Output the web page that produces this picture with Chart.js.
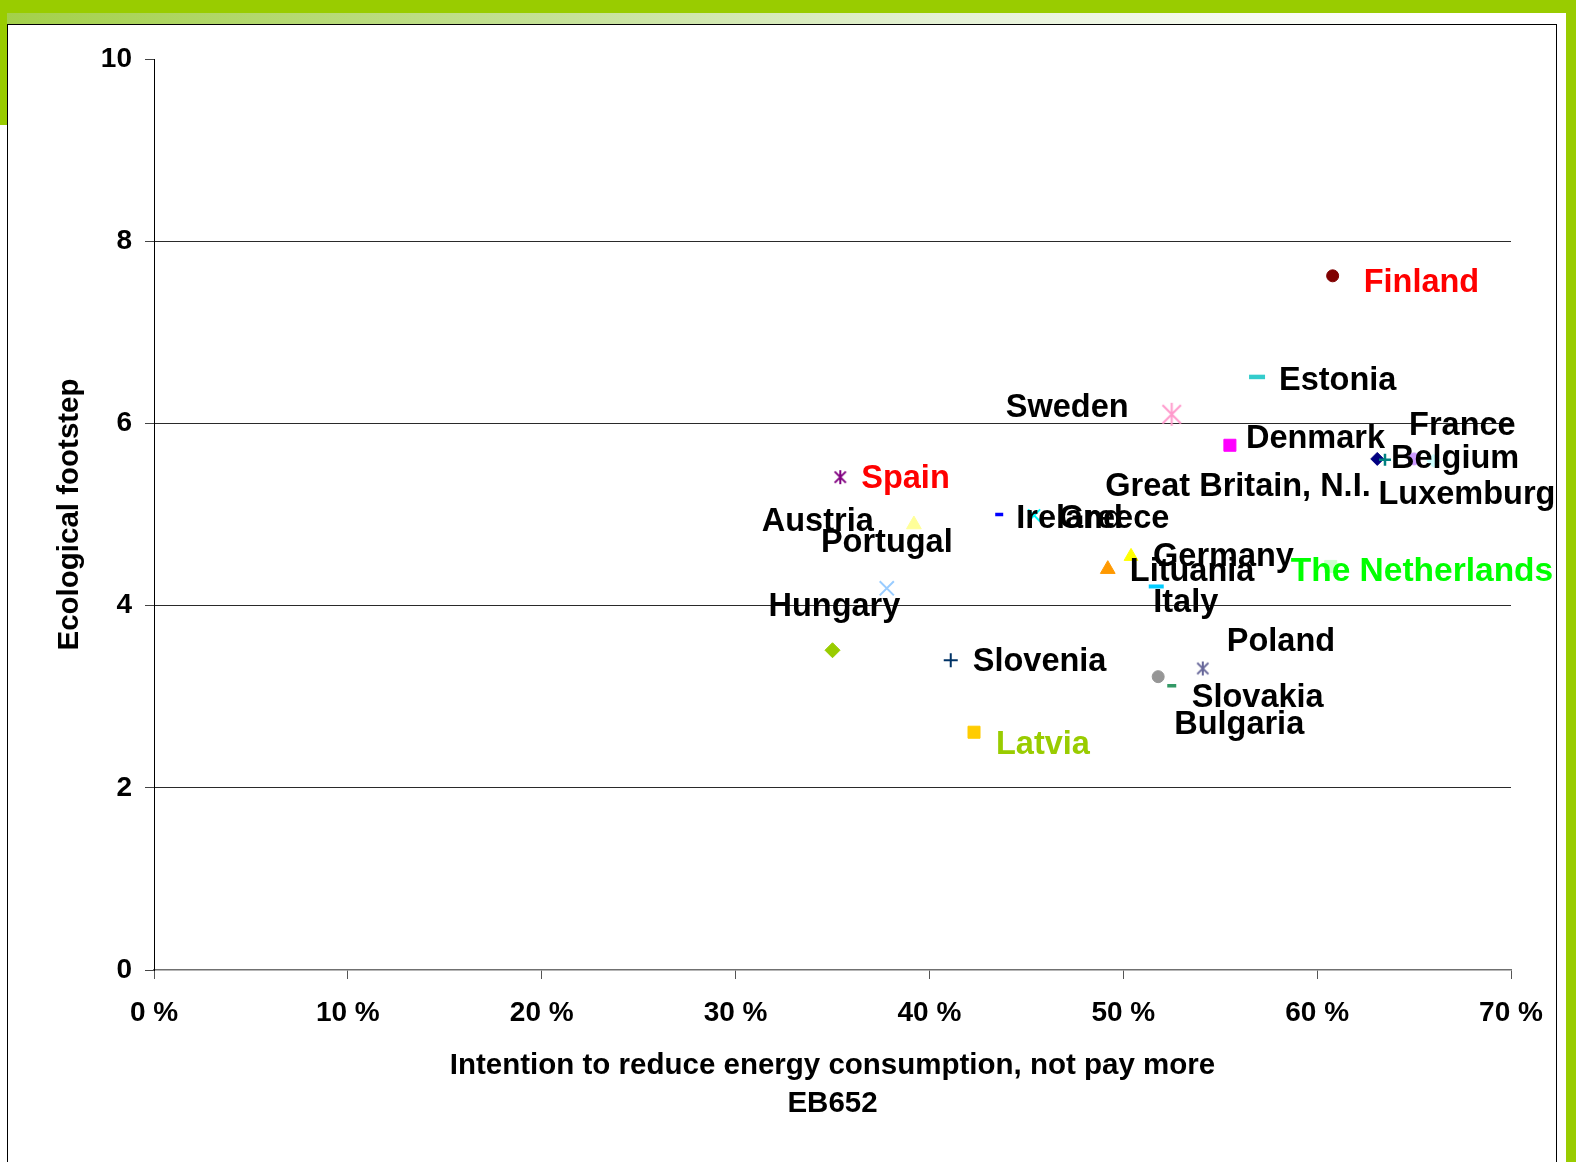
<!DOCTYPE html>
<html>
<head>
<meta charset="utf-8">
<title>Ecological footstep</title>
<script src="https://cdn.jsdelivr.net/npm/chart.js@4.4.1/dist/chart.umd.min.js"></script>
<style>
  body { margin: 0; background: #fff; }
  #page { position: relative; width: 1576px; height: 1162px; overflow: hidden; }
  .bar { position: absolute; background: #99cc00; }
  #topBar { left: 0; top: 0; width: 1576px; height: 13px; }
  #fade { position: absolute; left: 0; top: 13px; width: 1566px; height: 11px;
          background: linear-gradient(to right, #a3d049 0%, #c4e196 35%, #e4f1d4 60%, #f7fbf1 80%, #fff 92%); }
  #leftBar { left: 0; top: 13px; width: 7px; height: 112px; }
  #rightBar { left: 1566px; top: 0; width: 10px; height: 1162px; }
  #frame { position: absolute; left: 7px; top: 24px; width: 1548px; height: 1150px;
           border: 1px solid #000; border-bottom: none; }
  canvas { position: absolute; left: 0; top: 0; }
</style>
</head>
<body>
<div id="page">
  <div class="bar" id="topBar"></div>
  <div id="fade"></div>
  <div class="bar" id="leftBar"></div>
  <div class="bar" id="rightBar"></div>
  <div id="frame"></div>
  <canvas id="chart" width="1576" height="1162"></canvas>
</div>
<script>
const countries = ['Finland', 'Estonia', 'Sweden', 'Denmark', 'Great Britain, N.I.', 'Belgium', 'France', 'Luxemburg',
  'Spain', 'Portugal', 'Ireland', 'Greece', 'Germany', 'Lituania', 'Italy', 'The Netherlands',
  'Austria', 'Hungary', 'Slovenia', 'Latvia', 'Bulgaria', 'Slovakia', 'Poland'];

// Intention to reduce energy consumption, not pay more (%)
const intention = [60.8, 56.9, 52.5, 55.5, 63.1, 63.5, 65.0, 66.0,
  35.4, 39.2, 43.6, 45.4, 50.4, 49.2, 51.7, 60.7,
  37.8, 35.0, 41.1, 42.3, 51.8, 52.5, 54.1];

// Ecological footstep
const footstep = [7.62, 6.51, 6.10, 5.76, 5.61, 5.60, 5.61, 5.59,
  5.41, 4.89, 5.00, 4.99, 4.54, 4.40, 4.21, 4.43,
  4.19, 3.51, 3.40, 2.61, 3.22, 3.12, 3.31];

const xTicks = [0, 10, 20, 30, 40, 50, 60, 70];
const yTicks = [0, 2, 4, 6, 8, 10];

// marker looks, one per country
function asterisk(size, color, width) {
  const c = document.createElement('canvas');
  c.width = size;
  c.height = size;
  const g = c.getContext('2d');
  const m = size / 2;
  const r = m - 1;
  const h = r * 0.8;
  g.strokeStyle = color;
  g.lineWidth = width;
  g.beginPath();
  g.moveTo(m, m - r); g.lineTo(m, m + r);
  g.moveTo(m - h, m - h); g.lineTo(m + h, m + h);
  g.moveTo(m + h, m - h); g.lineTo(m - h, m + h);
  g.stroke();
  return c;
}

const markerColors = ['#800000', '#33CCCC', '#FF99CC', '#FF00FF', '#000080', '#008080', '#CC99FF', '#CCFFFF',
  '#800080', '#FFFF99', '#0000FF', '#00FFFF', '#FFFF00', '#FF9900', '#00CCFF', '#CCFFCC',
  '#99CCFF', '#99CC00', '#003366', '#FFCC00', '#969696', '#339966', '#666699'];

const markerStyles = ['circle', 'line', asterisk(25, '#FF99CC', 2), 'rect', 'rectRot', 'cross', 'circle', 'rectRot',
  asterisk(16, '#800080', 2), 'triangle', 'line', 'crossRot', 'triangle', 'triangle', 'line', 'rect',
  'crossRot', 'rectRot', 'cross', 'rect', 'circle', 'line', asterisk(16, '#666699', 2)];

const markerRadius = [6, 8, 12, 8.5, 6.5, 6, 6, 6.5,
  7, 8.5, 4, 8.5, 8, 8.5, 7.5, 8.5,
  10, 7.5, 7, 8.5, 6, 4.5, 8];

const markerBorder = [1, 4.5, 0, 1, 1, 2.5, 1, 1,
  0, 1, 3.5, 2, 1, 1, 4, 1,
  2, 1, 2, 1, 1, 3.5, 0];

// label placement next to its marker: [dx to text start, dy to baseline]
const labelOffsets = [[31, 16], [22, 13], [-166, 3], [16, 3], [-272, 37], [6, 8], [-5, -24], [-55, 43],
  [21, 11], [-93, 27], [17, 13], [25, 13], [22, 10], [22, 12], [-3, 26], [-40, 15],
  [-125, -57], [-64, -34], [22, 11], [22, 22], [16, 57], [20, 21], [24, -17]];

const labelColors = countries.map(c => {
  if (c === 'Finland' || c === 'Spain') return '#FF0000';
  if (c === 'Latvia') return '#99CC00';
  if (c === 'The Netherlands') return '#00FF00';
  return '#000000';
});

Chart.defaults.font.family = '"Liberation Sans", Arial, sans-serif';
Chart.defaults.color = '#000';

// country names drawn beside each point
const pointLabels = {
  id: 'pointLabels',
  afterDatasetsDraw(chart) {
    const ctx = chart.ctx;
    const pts = chart.getDatasetMeta(0).data;
    ctx.save();
    ctx.textBaseline = 'alphabetic';
    ctx.textAlign = 'left';
    pts.forEach((p, i) => {
      const size = countries[i] === 'The Netherlands' ? 33.5 : 32.5;
      ctx.font = 'bold ' + size + 'px "Liberation Sans", Arial, sans-serif';
      ctx.fillStyle = labelColors[i];
      ctx.fillText(countries[i], p.x + labelOffsets[i][0], p.y + labelOffsets[i][1]);
    });
    ctx.restore();
  }
};

const tickFont = { size: 28, weight: 'bold' };
const titleFont = { size: 29.5, weight: 'bold', lineHeight: 1.29 };

new Chart(document.getElementById('chart'), {
  type: 'scatter',
  data: {
    datasets: [{
      data: intention.map((x, i) => ({ x: x, y: footstep[i] })),
      pointStyle: markerStyles,
      pointRadius: markerRadius,
      pointBackgroundColor: markerColors,
      pointBorderColor: markerColors,
      pointBorderWidth: markerBorder
    }]
  },
  options: {
    responsive: false,
    animation: false,
    devicePixelRatio: 1,
    layout: { padding: { top: 59, right: 65, bottom: 0, left: 0 } },
    plugins: {
      legend: { display: false },
      tooltip: { enabled: false }
    },
    scales: {
      x: {
        type: 'linear',
        min: xTicks[0],
        max: xTicks[xTicks.length - 1],
        afterFit(scale) { scale.height = 192; },
        afterBuildTicks(scale) { scale.ticks = xTicks.map(v => ({ value: v })); },
        ticks: {
          padding: 17,
          font: tickFont,
          maxRotation: 0,
          callback: v => v + ' %'
        },
        grid: { drawOnChartArea: false, tickLength: 9, tickColor: '#555', tickWidth: 1 },
        border: { color: '#707070', width: 1.5 },
        title: {
          display: true,
          text: ['Intention to reduce energy consumption, not pay more', 'EB652'],
          font: titleFont,
          padding: { top: 0, bottom: 39 }
        }
      },
      y: {
        type: 'linear',
        min: yTicks[0],
        max: yTicks[yTicks.length - 1],
        afterFit(scale) { scale.width = 154; },
        afterBuildTicks(scale) { scale.ticks = yTicks.map(v => ({ value: v })); },
        ticks: { padding: 13, font: tickFont },
        grid: {
          color: c => (c.tick && (c.tick.value === 10 || c.tick.value === 0)) ? 'rgba(0,0,0,0)' : '#2a2a2a',
          lineWidth: 1,
          tickLength: 9,
          tickColor: '#444'
        },
        border: { color: '#000', width: 1 },
        title: {
          display: true,
          text: 'Ecological footstep',
          font: titleFont,
          padding: { top: 51, bottom: 0 }
        }
      }
    }
  },
  plugins: [pointLabels]
});
</script>
</body>
</html>
